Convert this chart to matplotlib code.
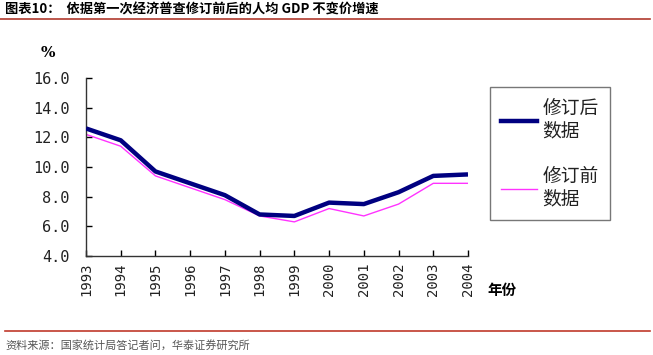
import matplotlib
matplotlib.use("Agg")
import matplotlib.pyplot as plt
from matplotlib.lines import Line2D

plt.rcParams['font.family'] = ['Noto Sans CJK SC', 'DejaVu Sans']

years = ['1993', '1994', '1995', '1996', '1997', '1998', '1999', '2000', '2001', '2002', '2003', '2004']
revised = [12.6, 11.8, 9.7, 8.9, 8.1, 6.8, 6.7, 7.6, 7.5, 8.3, 9.4, 9.5]
original = [12.2, 11.4, 9.4, 8.6, 7.8, 6.7, 6.3, 7.2, 6.7, 7.5, 8.9, 8.9]
yticks = [4.0, 6.0, 8.0, 10.0, 12.0, 14.0, 16.0]
series_names = ['修订后\n数据', '修订前\n数据']

title = '图表10：  依据第一次经济普查修订前后的人均 GDP 不变价增速'
source = '资料来源：国家统计局答记者问，华泰证券研究所'

W, H = 653, 355
fig = plt.figure(figsize=(W / 100, H / 100), dpi=100)
ax = fig.add_axes([86 / W, 1 - 256 / H, (468 - 86) / W, (256 - 78) / H])

x = list(range(len(years)))
ax.plot(x, revised, color='#000080', lw=3.2, solid_capstyle='butt', zorder=3)
ax.plot(x, original, color='#FF33FF', lw=1.0, zorder=2)

ax.set_xlim(0, len(years) - 1)
ax.set_ylim(4, 16)
ax.set_yticks(yticks)
ax.set_yticklabels([f'{v:.1f}' for v in yticks], family='DejaVu Sans Mono', fontsize=11, color='#222222')
ax.set_xticks(x)
ax.set_xticklabels(years, rotation=90, family='DejaVu Sans Mono', fontsize=10, color='#222222')
ax.tick_params(axis='y', direction='in', length=4, pad=12, width=1)
ax.tick_params(axis='x', direction='in', length=4, pad=5, width=1)
for s in ['top', 'right']:
    ax.spines[s].set_visible(False)
for s in ['left', 'bottom']:
    ax.spines[s].set_color('#333333')
    ax.spines[s].set_linewidth(1.0)

# Units
fig.text(48 / W, 1 - 53 / H, '%', fontsize=11, fontweight='bold', ha='center', va='center', family='DejaVu Serif')
fig.text(502 / W, 1 - 290 / H, '年份', fontsize=10.5, fontweight='bold', ha='center', va='center')

# Legend
handles = [Line2D([], [], color='#000080', lw=3.2), Line2D([], [], color='#FF33FF', lw=1.0)]
leg = fig.legend(handles, series_names, loc='upper left', bbox_to_anchor=(490 / W, 1 - 87 / H),
                 fontsize=13.5, frameon=True, fancybox=False, edgecolor='#555555',
                 handlelength=1.9, handletextpad=0.3, labelspacing=1.35, borderpad=0.6,
                 borderaxespad=0)
leg.get_frame().set_linewidth(1.0)
for t in leg.get_texts():
    t.set_color('#222222')
    t.set_linespacing(1.05)

# Title and rules
fig.text(5 / W, 1 - 10 / H, title, fontsize=9.5, fontweight='bold', ha='left', va='center')
fig.add_artist(Line2D([0 / W, 650 / W], [1 - 19 / H, 1 - 19 / H], color='#B03A2E', lw=1.2))
fig.add_artist(Line2D([5 / W, 650 / W], [1 - 331 / H, 1 - 331 / H], color='#C0392B', lw=1.2))
fig.text(5 / W, 1 - 345 / H, source, fontsize=8, color='#555555', ha='left', va='center')

fig.savefig('out.png', dpi=100)
